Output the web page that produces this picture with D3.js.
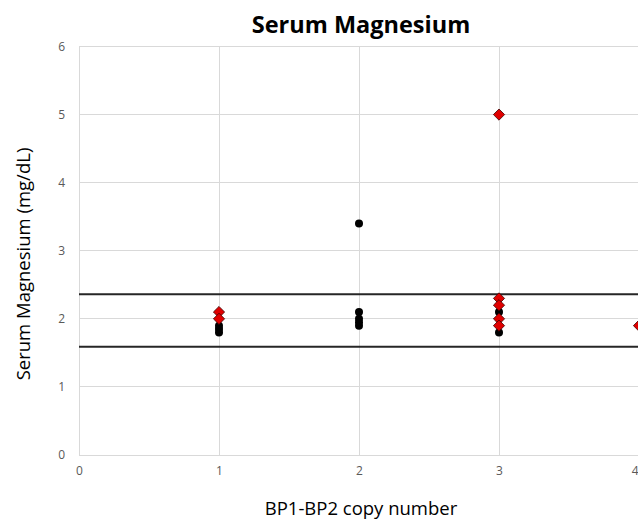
<!DOCTYPE html>
<html><head><meta charset="utf-8">
<script src="https://cdn.jsdelivr.net/npm/d3@7"></script>
<style>body{margin:0;background:#fff}svg{display:block}</style>
</head><body>
<svg id="c" width="638" height="520"></svg>
<script>
const title = "Serum Magnesium";
const xLabel = "BP1-BP2 copy number";
const yLabel = "Serum Magnesium (mg/dL)";
const xTicks = [0, 1, 2, 3, 4];
const yTicks = [0, 1, 2, 3, 4, 5, 6];
const refLines = [2.36, 1.59];
// black circles
const circleX = [1, 1, 1, 2, 2, 2, 2, 2, 3, 3];
const circleY = [1.9, 1.85, 1.8, 3.4, 2.1, 2.0, 1.95, 1.9, 2.1, 1.8];
// red diamonds
const diamondX = [1, 1, 3, 3, 3, 3, 3, 4];
const diamondY = [2.1, 2.0, 5.0, 2.3, 2.2, 2.0, 1.9, 1.9];

const svg = d3.select("#c");
const x = d3.scaleLinear().domain([0, 4]).range([79, 639]);
const y = d3.scaleLinear().domain([0, 6]).range([455, 46.5]);
const font = "'Open Sans', sans-serif";

// gridlines
svg.append("g").selectAll("line").data(yTicks.filter(d => d > 0)).join("line")
  .attr("x1", x(0)).attr("x2", x(4)).attr("y1", d => y(d)).attr("y2", d => y(d))
  .attr("stroke", "#d9d9d9").attr("stroke-width", 1).attr("shape-rendering", "crispEdges");
svg.append("g").selectAll("line").data(xTicks.filter(d => d > 0)).join("line")
  .attr("x1", d => x(d)).attr("x2", d => x(d)).attr("y1", y(0)).attr("y2", y(6))
  .attr("stroke", "#d9d9d9").attr("stroke-width", 1).attr("shape-rendering", "crispEdges");

// axes
const fmt = d3.format("d");
const yAxis = svg.append("g").attr("transform", `translate(${x(0)},0)`)
  .call(d3.axisLeft(y).tickValues(yTicks).tickFormat(fmt).tickSize(0).tickPadding(14));
const xAxis = svg.append("g").attr("transform", `translate(0,${y(0)})`)
  .call(d3.axisBottom(x).tickValues(xTicks).tickFormat(fmt).tickSize(0).tickPadding(11));
[xAxis, yAxis].forEach(a => {
  a.select(".domain").attr("stroke", "#d9d9d9").attr("shape-rendering", "crispEdges");
  a.selectAll("text").attr("fill", "#595959").attr("font-family", font).attr("font-size", 12);
});
// keep the last x tick label inside the window edge
xAxis.selectAll(".tick").filter(d => d === 4).select("text")
  .attr("text-anchor", "end").attr("x", -1);

// reference lines
svg.append("g").selectAll("line").data(refLines).join("line")
  .attr("x1", x(0)).attr("x2", x(4)).attr("y1", d => y(d)).attr("y2", d => y(d))
  .attr("stroke", "#262626").attr("stroke-width", 2);

// circles
svg.append("g").selectAll("circle").data(circleX.map((d, i) => [d, circleY[i]])).join("circle")
  .attr("cx", d => x(d[0])).attr("cy", d => y(d[1])).attr("r", 4)
  .attr("fill", "#000");

// diamonds
const sym = d3.symbol().type(d3.symbolDiamond2).size(80);
svg.append("g").selectAll("path").data(diamondX.map((d, i) => [d, diamondY[i]])).join("path")
  .attr("d", sym).attr("transform", d => `translate(${x(d[0])},${y(d[1])})`)
  .attr("fill", "#e00000").attr("stroke", "#400000").attr("stroke-width", 0.8);

// titles
svg.append("text").attr("x", 361).attr("y", 33).attr("text-anchor", "middle")
  .attr("font-family", font).attr("font-weight", "bold").attr("font-size", 23.5)
  .attr("fill", "#000").text(title);
svg.append("text").attr("x", 361).attr("y", 515).attr("text-anchor", "middle")
  .attr("font-family", font).attr("font-size", 18.5).attr("fill", "#000").text(xLabel);
svg.append("text").attr("transform", "translate(30,264) rotate(-90)").attr("text-anchor", "middle")
  .attr("font-family", font).attr("font-size", 18.5).attr("fill", "#000").text(yLabel);
</script>
</body></html>
